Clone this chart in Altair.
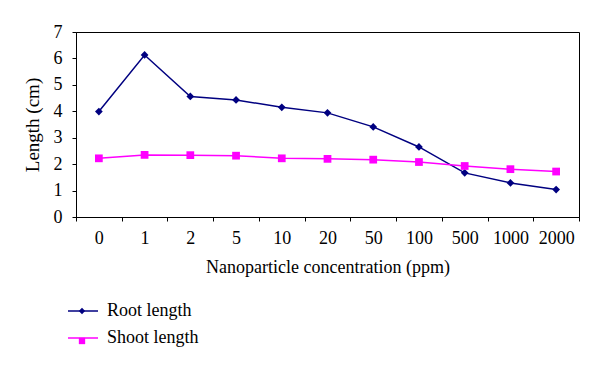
import altair as alt
import pandas as pd

concentrations = ["0", "1", "2", "5", "10", "20", "50", "100", "500", "1000", "2000"]
root_length = [3.99, 6.13, 4.56, 4.43, 4.15, 3.94, 3.41, 2.65, 1.67, 1.29, 1.04]
shoot_length = [2.22, 2.35, 2.34, 2.32, 2.22, 2.20, 2.17, 2.08, 1.93, 1.81, 1.72]
series_names = ["Root length", "Shoot length"]
series_colors = ["#000080", "#ff00ff"]
series_shapes = ["diamond", "square"]
y_ticks = [0, 1, 2, 3, 4, 5, 6, 7]

rows = []
for c, r, s in zip(concentrations, root_length, shoot_length):
    rows.append({"conc": c, "series": series_names[0], "value": r})
    rows.append({"conc": c, "series": series_names[1], "value": s})
df = pd.DataFrame(rows)

FONT = "Liberation Serif"

x = alt.X(
    "conc:N",
    sort=concentrations,
    bandPosition=0.5,
    scale=alt.Scale(type="band", paddingInner=0, paddingOuter=0),
    axis=alt.Axis(
        title="Nanoparticle concentration (ppm)",
        labelAngle=0,
        tickBand="extent",
        tickSize=4,
        labelPadding=8,
        titlePadding=11,
        labelFontSize=18,
        titleFontSize=18,
    ),
)
y = alt.Y(
    "value:Q",
    scale=alt.Scale(domain=[0, 7]),
    axis=alt.Axis(
        title="Length (cm)",
        values=y_ticks,
        tickSize=4,
        labelPadding=10,
        titlePadding=11,
        labelFontSize=18,
        titleFontSize=19,
        grid=False,
    ),
)

# line legend (stroke only, carries the labels)
color = alt.Color(
    "series:N",
    scale=alt.Scale(domain=series_names, range=series_colors),
    legend=alt.Legend(
        title=None,
        orient="none",
        legendX=-9,
        legendY=263,
        symbolType="M-1,0L1,0",
        symbolSize=900,
        symbolStrokeWidth=1.5,
        labelOffset=8,
        labelFontSize=18,
        labelFont=FONT,
        labelColor="black",
        rowPadding=2,
        padding=0,
    ),
)

lines = alt.Chart(df).mark_line(strokeWidth=1.5).encode(x=x, y=y, color=color)
points = alt.Chart(df).mark_point(filled=True, size=60, opacity=1).encode(
    x=x,
    y=y,
    fill=alt.Fill(
        "series:N",
        scale=alt.Scale(range=series_colors),
        legend=alt.Legend(
            title=None,
            orient="none",
            legendX=-3,
            legendY=270,
            symbolSize=40,
            labelExpr="''",
            labelFontSize=18,
            labelOffset=0,
            rowPadding=12,
            padding=0,
        ),
    ),
    shape=alt.Shape("series:N", scale=alt.Scale(range=series_shapes)),
)

chart = (
    alt.layer(lines, points)
    .properties(
        width=503,
        height=185,
        autosize=alt.AutoSizeParams(type="none"),
        padding={"left": 68, "top": 24, "right": 5, "bottom": 135},
    )
    .configure(font=FONT)
    .configure_view(stroke="black", strokeWidth=1)
    .configure_axis(
        labelFont=FONT,
        titleFont=FONT,
        titleFontWeight="normal",
        labelColor="black",
        titleColor="black",
        domainColor="black",
        tickColor="black",
        domainWidth=1,
    )
    .configure_legend(labelFont=FONT, labelFontSize=18, labelColor="black")
)

chart.save("out.html", embed_options={"renderer": "svg", "actions": False})
